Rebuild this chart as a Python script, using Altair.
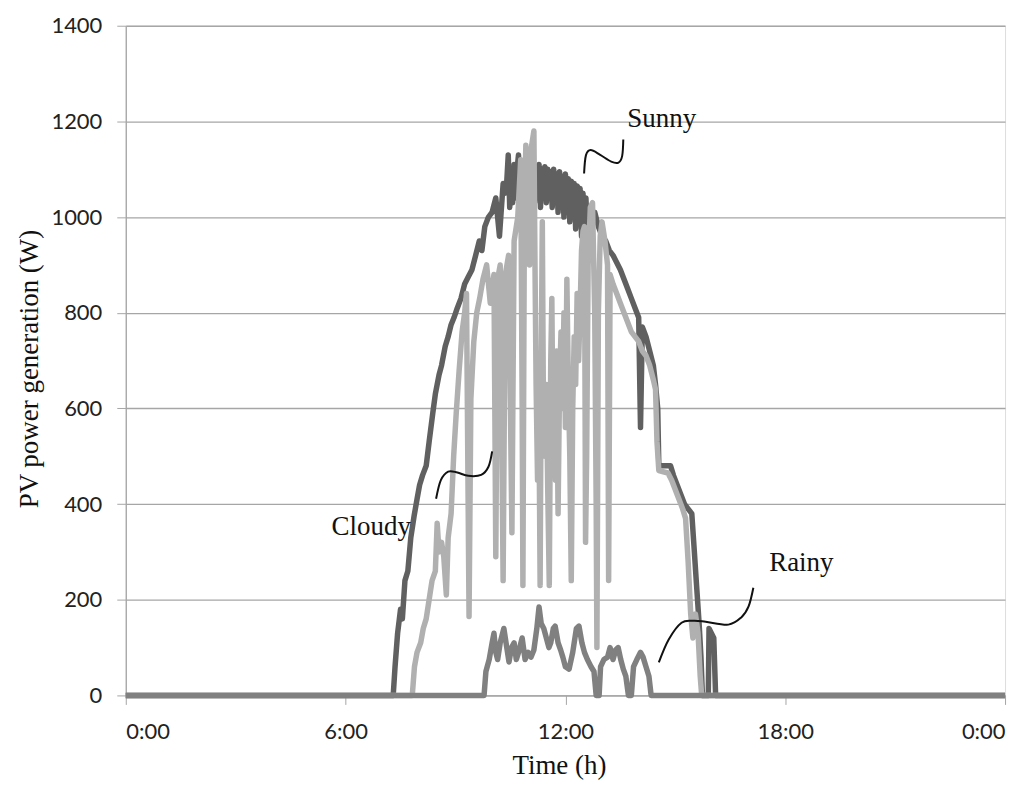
import altair as alt
import pandas as pd

# ---- data (hours, watts) ----
sunny_t = [0, 7.30, 7.35, 7.42, 7.50, 7.55, 7.62, 7.70, 7.78, 7.87, 7.95, 8.02, 8.10, 8.20, 8.28, 8.38,
           8.45, 8.55, 8.62, 8.72, 8.80, 8.88, 8.96, 9.05, 9.15, 9.25, 9.35, 9.45, 9.55, 9.65, 9.72,
           9.80, 9.90, 10.00, 10.10, 10.20, 10.30, 10.36,
           10.40, 10.44, 10.48, 10.52, 10.56, 10.60, 10.64, 10.68, 10.72, 10.76, 10.80, 10.84, 10.88,
           10.92, 10.96, 11.00, 11.04, 11.08, 11.12, 11.16, 11.20, 11.24, 11.28, 11.32, 11.36, 11.40,
           11.44, 11.48, 11.52, 11.56, 11.60, 11.64, 11.68, 11.72, 11.76, 11.80, 11.84, 11.88, 11.92,
           11.96, 12.00, 12.04, 12.08, 12.12, 12.16, 12.20, 12.24, 12.28, 12.32, 12.36, 12.40, 12.44,
           12.48, 12.52, 12.56, 12.60, 12.64, 12.70,
           12.80, 12.90, 13.00, 13.10, 13.20, 13.30, 13.40, 13.50, 13.60, 13.70, 13.80, 13.90, 14.00,
           14.05, 14.10, 14.20, 14.30, 14.40, 14.46, 14.52, 14.55, 14.80, 14.87, 14.95, 15.05, 15.15,
           15.25, 15.35, 15.45, 15.52, 15.58, 15.65, 15.70, 15.74, 15.90, 15.92, 16.05, 16.10, 24]
sunny_v = [0, 0, 60, 130, 180, 160, 240, 260, 330, 375, 410, 440, 460, 480, 530, 590,
           630, 670, 690, 730, 750, 775, 790, 810, 830, 860, 875, 890, 920, 950, 930,
           980, 1000, 1010, 1040, 960, 1070, 1050,
           1075, 1130, 1020, 1090, 1030, 1110, 1040, 1100, 1130, 1030, 1100, 1020, 1110,
           1050, 1120, 1040, 1110, 1060, 1115, 1030, 1105, 1050, 1110, 1020, 1100, 1040,
           1105, 1030, 1100, 1050, 1095, 1020, 1100, 1040, 1090, 1010, 1095, 1030, 1085,
           1000, 1090, 1020, 1080, 990, 1075, 1000, 1070, 975, 1065, 990, 1060, 960,
           1050, 990, 1040, 960, 1020, 1000,
           1010, 980, 960, 950, 930, 920, 905, 890, 870, 850, 830, 810, 790,
           560, 770, 750, 720, 690, 650, 600, 480, 480, 480, 460, 440, 420,
           400, 390, 380, 300, 230, 150, 80, 0, 0, 140, 120, 0, 0]

cloudy_t = [0, 7.82, 7.88, 7.95, 8.05, 8.12, 8.20, 8.28, 8.36, 8.45, 8.50, 8.55, 8.62, 8.68, 8.75,
            8.80, 8.88, 8.95, 9.02, 9.10, 9.18, 9.25, 9.30, 9.37, 9.42, 9.50, 9.58, 9.66, 9.75,
            9.85, 9.95, 10.05, 10.10, 10.15, 10.22, 10.30, 10.36, 10.45, 10.54, 10.60, 10.70,
            10.78, 10.82, 10.84, 10.88, 10.92, 10.97, 11.02, 11.06, 11.10, 11.14, 11.17, 11.20,
            11.24, 11.28, 11.31, 11.34, 11.37, 11.40, 11.44, 11.48, 11.52, 11.56, 11.60, 11.63,
            11.66, 11.70, 11.73, 11.76, 11.80, 11.84, 11.88, 11.92, 11.96, 12.00, 12.04, 12.08,
            12.12, 12.16, 12.20, 12.24, 12.28, 12.32, 12.36, 12.40, 12.44, 12.48, 12.52, 12.55,
            12.58, 12.62, 12.68, 12.74, 12.80, 12.84, 12.86, 12.90, 12.95, 13.00,
            13.08, 13.15, 13.18, 13.22, 13.30, 13.40, 13.50, 13.60, 13.70, 13.80, 13.90, 14.00,
            14.10, 14.20, 14.30, 14.40, 14.46, 14.50, 14.55, 14.80, 14.90, 15.00, 15.10, 15.20,
            15.28, 15.35, 15.42, 15.48, 15.55, 15.62, 15.68, 15.72, 24]
cloudy_v = [0, 0, 60, 90, 110, 140, 160, 200, 240, 260, 360, 300, 320, 290, 210,
            330, 380, 500, 590, 680, 760, 800, 840, 165, 620, 740, 800, 830, 870,
            900, 820, 880, 290, 870, 900, 240, 880, 920, 340, 950, 1000,
            1120, 600, 230, 1000, 1150, 1060, 900, 1140, 1160, 1180, 900, 650,
            450, 560, 230, 700, 990, 600, 500, 650, 420, 230, 700, 830,
            560, 680, 450, 720, 380, 650, 760, 600, 800, 560, 870, 650,
            500, 240, 600, 750, 650, 840, 700, 800, 930, 970, 980, 320,
            500, 900, 1020, 1030, 800, 400, 100, 800, 960, 990,
            950, 900, 240, 880, 860, 840, 820, 800, 780, 760, 750, 740,
            720, 710, 690, 660, 640, 530, 470, 465, 450, 430, 410, 390,
            370, 280, 170, 120, 170, 130, 40, 0, 0]

rainy_t = [0, 9.78, 9.83, 9.92, 10.00, 10.05, 10.10, 10.15, 10.22, 10.32, 10.40, 10.46, 10.53, 10.60,
           10.66, 10.72, 10.82, 10.90, 10.98, 11.06, 11.14, 11.22, 11.28, 11.34, 11.41, 11.48, 11.55,
           11.60, 11.67, 11.72, 11.80, 11.87, 11.93, 12.00, 12.10, 12.20, 12.30, 12.37, 12.45, 12.52,
           12.60, 12.70, 12.78, 12.84, 12.92, 12.96, 13.05, 13.15, 13.22, 13.30, 13.37, 13.44, 13.51,
           13.58, 13.65, 13.72, 13.80, 13.86, 13.95, 14.05, 14.12, 14.20, 14.28, 14.34, 24]
rainy_v = [0, 0, 50, 75, 110, 130, 90, 75, 110, 140, 100, 70, 100, 110,
           75, 90, 120, 75, 90, 80, 95, 140, 185, 150, 140, 120, 100,
           110, 140, 145, 110, 95, 80, 60, 55, 90, 140, 145, 110, 90,
           75, 60, 50, 0, 0, 60, 75, 80, 100, 75, 95, 100, 75,
           55, 40, 0, 0, 60, 75, 90, 80, 60, 40, 0, 0]

series_names = ["Sunny", "Cloudy", "Rainy"]
series_colors = ["#606060", "#b0b0b0", "#808080"]

# annotation labels and their squiggle leaders (data coordinates)
label_text = ["Sunny", "Cloudy", "Rainy"]
label_t = [14.63, 6.70, 18.44]
label_v = [1206, 353, 277]

sq_sunny_t = [12.51, 12.56, 12.69, 12.95, 13.25, 13.45, 13.55, 13.58]
sq_sunny_v = [1091, 1129, 1140, 1130, 1116, 1114, 1128, 1162]
sq_cloudy_t = [8.47, 8.60, 8.80, 9.05, 9.35, 9.70, 9.90, 10.00]
sq_cloudy_v = [411, 450, 468, 466, 459, 461, 478, 510]
sq_rainy_t = [14.55, 14.82, 15.17, 15.50, 15.83, 16.45, 16.80, 17.00, 17.13]
sq_rainy_v = [69, 117, 152, 156, 154, 148, 163, 186, 225]

# ---- build tables ----
rows = []
for name, ts, vs in [("Sunny", sunny_t, sunny_v), ("Cloudy", cloudy_t, cloudy_v), ("Rainy", rainy_t, rainy_v)]:
    for i, (t, v) in enumerate(zip(ts, vs)):
        rows.append({"series": name, "t": t, "v": v, "i": i})
df = pd.DataFrame(rows)

sq_rows = []
for name, ts, vs in [("s", sq_sunny_t, sq_sunny_v), ("c", sq_cloudy_t, sq_cloudy_v), ("r", sq_rainy_t, sq_rainy_v)]:
    for i, (t, v) in enumerate(zip(ts, vs)):
        sq_rows.append({"g": name, "t": t, "v": v, "i": i})
sq = pd.DataFrame(sq_rows)

lab = pd.DataFrame({"text": label_text, "t": label_t, "v": label_v})

W, H = 881, 671

xscale = alt.Scale(domain=[0, 24], nice=False)
yscale = alt.Scale(domain=[0, 1400], nice=False)

x_axis = alt.Axis(values=[0, 6, 12, 18, 24], grid=False,
                  labelExpr="datum.value == 24 ? '0:00' : datum.value + ':00'",
                  labelFont="Lato", labelFontSize=22, labelColor="#222222", labelPadding=17,
                  tickSize=9, tickColor="#a6a6a6", domainColor="#a6a6a6", domainWidth=1.3,
                  title="Time (h)", titleFont="Liberation Serif", titleFontSize=27,
                  titleFontWeight="normal", titleColor="#111111",
                  titleX=434, titleY=70, titleBaseline="middle", titleAlign="center")
y_axis = alt.Axis(values=[0, 200, 400, 600, 800, 1000, 1200, 1400], grid=True, format="d",
                  gridColor="#a6a6a6", gridWidth=1.3,
                  labelFont="Lato", labelFontSize=22, labelColor="#222222", labelPadding=15,
                  tickSize=9, tickColor="#a6a6a6", domainColor="#a6a6a6", domainWidth=1.3,
                  title="PV power generation (W)", titleFont="Liberation Serif", titleFontSize=27,
                  titleFontWeight="normal", titleColor="#111111",
                  titleX=-96, titleY=H / 2 + 8, titleAngle=270, titleBaseline="middle", titleAlign="center")

lines = alt.Chart(df).mark_line(strokeWidth=5.5, strokeJoin="round").encode(
    x=alt.X("t:Q", scale=xscale, axis=x_axis),
    y=alt.Y("v:Q", scale=yscale, axis=y_axis),
    color=alt.Color("series:N", scale=alt.Scale(domain=series_names, range=series_colors), legend=None),
    order="i:Q",
)

squiggles = alt.Chart(sq).mark_line(color="#111111", strokeWidth=2, interpolate="cardinal").encode(
    x=alt.X("t:Q", scale=xscale),
    y=alt.Y("v:Q", scale=yscale),
    detail="g:N",
    order="i:Q",
)

labels = alt.Chart(lab).mark_text(font="Liberation Serif", fontSize=27, color="#111111",
                                  align="center", baseline="middle").encode(
    x=alt.X("t:Q", scale=xscale),
    y=alt.Y("v:Q", scale=yscale),
    text="text:N",
)

chart = alt.layer(lines, squiggles, labels).properties(
    width=W, height=H,
    autosize=alt.AutoSizeParams(type="none"),
    padding={"left": 118, "top": 17, "right": 20, "bottom": 90},
).configure_view(stroke=None).configure(background="white")

chart.save("out.html", embed_options={"renderer": "svg", "actions": False})
